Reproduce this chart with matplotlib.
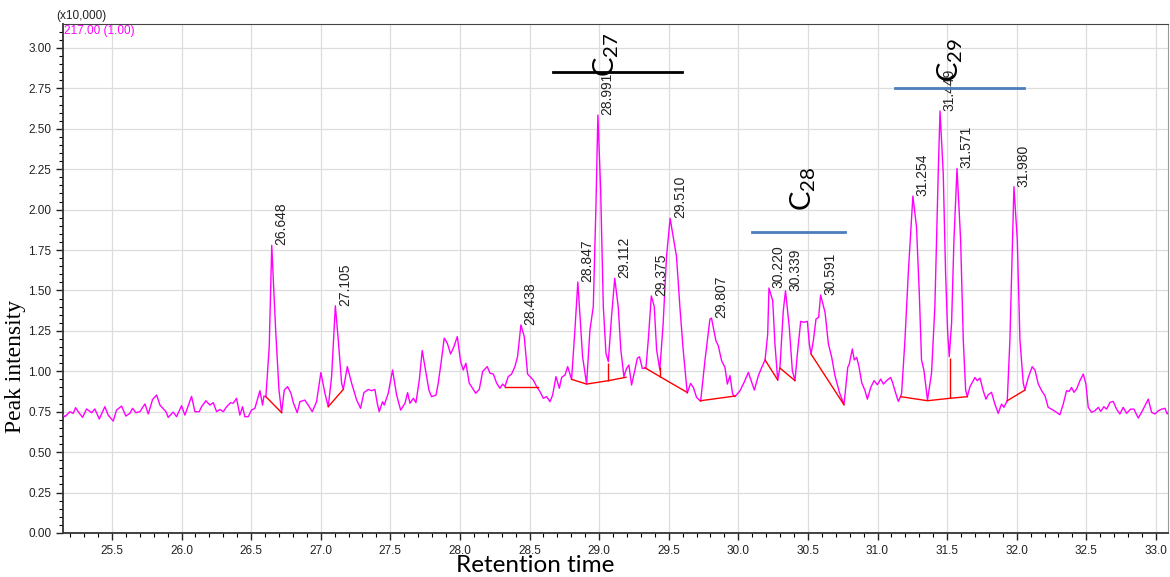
import matplotlib
matplotlib.use("Agg")
import matplotlib.pyplot as plt
from matplotlib.ticker import MultipleLocator

plt.rcParams['font.family'] = ['Liberation Sans', 'DejaVu Sans']
plt.rcParams['mathtext.default'] = 'regular'

# chromatogram trace (retention time, intensity x10,000)
rt = [25.150, 25.162, 25.198, 25.222, 25.239, 25.258, 25.289, 25.318, 25.354, 25.377,
      25.409, 25.449, 25.473, 25.509, 25.533, 25.569, 25.600, 25.629, 25.648, 25.672,
      25.701, 25.737, 25.761, 25.792, 25.821, 25.845, 25.888, 25.904, 25.940, 25.964,
      26.000, 26.024, 26.048, 26.072, 26.096, 26.127, 26.144, 26.175, 26.204, 26.228,
      26.252, 26.276, 26.300, 26.324, 26.352, 26.371, 26.395, 26.419, 26.438, 26.455,
      26.479, 26.503, 26.527, 26.563, 26.582, 26.592, 26.606, 26.630, 26.648, 26.676,
      26.700, 26.719, 26.738, 26.762, 26.786, 26.803, 26.831, 26.850, 26.886, 26.910,
      26.939, 26.970, 27.001, 27.030, 27.054, 27.078, 27.105, 27.126, 27.150, 27.162,
      27.191, 27.222, 27.258, 27.286, 27.310, 27.341, 27.365, 27.389, 27.406, 27.420,
      27.444, 27.456, 27.485, 27.516, 27.545, 27.574, 27.605, 27.624, 27.641, 27.665,
      27.684, 27.708, 27.729, 27.753, 27.777, 27.796, 27.828, 27.844, 27.864, 27.887,
      27.909, 27.933, 27.957, 27.981, 28.005, 28.024, 28.043, 28.067, 28.091, 28.113,
      28.139, 28.163, 28.196, 28.216, 28.240, 28.264, 28.287, 28.307, 28.323, 28.347,
      28.371, 28.395, 28.414, 28.438, 28.462, 28.486, 28.503, 28.527, 28.551, 28.575,
      28.599, 28.623, 28.647, 28.666, 28.690, 28.714, 28.731, 28.755, 28.774, 28.802,
      28.826, 28.847, 28.881, 28.910, 28.934, 28.958, 28.977, 28.991, 29.011, 29.030,
      29.049, 29.066, 29.089, 29.112, 29.137, 29.156, 29.178, 29.197, 29.214, 29.233,
      29.257, 29.274, 29.290, 29.310, 29.336, 29.353, 29.375, 29.396, 29.413, 29.436,
      29.460, 29.484, 29.510, 29.556, 29.580, 29.604, 29.633, 29.657, 29.677, 29.700,
      29.729, 29.760, 29.796, 29.807, 29.839, 29.856, 29.880, 29.904, 29.921, 29.940,
      29.959, 29.976, 30.012, 30.041, 30.072, 30.096, 30.115, 30.144, 30.168, 30.192,
      30.211, 30.220, 30.247, 30.263, 30.283, 30.299, 30.323, 30.339, 30.366, 30.388,
      30.407, 30.424, 30.448, 30.472, 30.496, 30.510, 30.522, 30.539, 30.558, 30.577,
      30.591, 30.623, 30.647, 30.671, 30.694, 30.726, 30.759, 30.786, 30.797, 30.819,
      30.833, 30.850, 30.867, 30.886, 30.910, 30.927, 30.951, 30.975, 30.999, 31.023,
      31.042, 31.065, 31.094, 31.108, 31.125, 31.149, 31.166, 31.173, 31.197, 31.221,
      31.254, 31.280, 31.300, 31.316, 31.333, 31.359, 31.388, 31.412, 31.436, 31.449,
      31.472, 31.489, 31.503, 31.515, 31.532, 31.549, 31.571, 31.597, 31.616, 31.633,
      31.645, 31.664, 31.688, 31.700, 31.716, 31.736, 31.759, 31.779, 31.795, 31.819,
      31.843, 31.867, 31.891, 31.908, 31.932, 31.951, 31.970, 31.980, 32.004, 32.023,
      32.047, 32.059, 32.083, 32.111, 32.131, 32.155, 32.179, 32.203, 32.226, 32.250,
      32.286, 32.310, 32.334, 32.358, 32.377, 32.394, 32.411, 32.430, 32.454, 32.478,
      32.497, 32.514, 32.538, 32.562, 32.586, 32.603, 32.626, 32.646, 32.670, 32.693,
      32.717, 32.741, 32.765, 32.789, 32.818, 32.842, 32.873, 32.897, 32.921, 32.945,
      32.969, 32.993, 33.017, 33.041, 33.065, 33.081, 33.101]
intensity = [0.730, 0.719, 0.750, 0.740, 0.775, 0.750, 0.715, 0.767, 0.744, 0.767,
             0.705, 0.781, 0.729, 0.692, 0.760, 0.785, 0.723, 0.740, 0.771, 0.744,
             0.750, 0.798, 0.736, 0.826, 0.853, 0.791, 0.750, 0.715, 0.748, 0.719,
             0.787, 0.729, 0.787, 0.845, 0.750, 0.750, 0.781, 0.818, 0.791, 0.806,
             0.750, 0.764, 0.750, 0.781, 0.806, 0.802, 0.833, 0.729, 0.781, 0.719,
             0.719, 0.760, 0.771, 0.880, 0.791, 0.847, 0.843, 1.153, 1.779, 1.256,
             0.884, 0.744, 0.884, 0.905, 0.864, 0.806, 0.744, 0.812, 0.822, 0.791,
             0.750, 0.812, 0.992, 0.864, 0.781, 0.967, 1.405, 1.194, 0.926, 0.888,
             1.029, 0.926, 0.822, 0.771, 0.868, 0.888, 0.880, 0.888, 0.802, 0.750,
             0.812, 0.791, 0.864, 1.008, 0.853, 0.760, 0.802, 0.868, 0.802, 0.833,
             0.806, 0.946, 1.128, 1.008, 0.884, 0.843, 0.853, 0.926, 1.050, 1.205,
             1.174, 1.107, 1.153, 1.215, 1.060, 1.008, 1.050, 0.926, 0.895, 0.864,
             0.888, 0.998, 1.029, 0.988, 0.983, 0.926, 0.895, 0.921, 0.905, 0.967,
             0.983, 1.029, 1.091, 1.287, 1.215, 0.983, 0.967, 0.946, 0.905, 0.874,
             0.833, 0.843, 0.812, 0.853, 0.967, 0.895, 0.963, 0.977, 1.029, 0.950,
             1.256, 1.552, 1.091, 0.921, 1.256, 1.400, 2.018, 2.585, 2.120, 1.400,
             1.111, 1.060, 1.338, 1.575, 1.400, 1.132, 0.967, 1.018, 1.039, 0.915,
             1.008, 1.080, 1.090, 1.018, 1.018, 1.194, 1.466, 1.400, 1.132, 1.008,
             1.297, 1.709, 1.946, 1.709, 1.400, 1.130, 0.865, 0.925, 0.900, 0.839,
             0.814, 1.065, 1.323, 1.329, 1.189, 1.158, 1.065, 1.024, 0.921, 0.973,
             0.859, 0.843, 0.880, 0.931, 0.993, 0.931, 0.884, 0.973, 1.024, 1.070,
             1.230, 1.515, 1.437, 1.169, 0.946, 1.024, 1.375, 1.498, 1.272, 1.004,
             0.942, 1.107, 1.309, 1.303, 1.309, 1.169, 1.107, 1.189, 1.323, 1.334,
             1.472, 1.364, 1.169, 1.086, 0.973, 0.870, 0.793, 1.024, 1.045, 1.138,
             1.070, 1.086, 1.028, 0.931, 0.880, 0.828, 0.900, 0.942, 0.917, 0.952,
             0.921, 0.942, 0.962, 0.931, 0.880, 0.814, 0.843, 0.864, 1.194, 1.608,
             2.084, 1.894, 1.484, 1.070, 1.008, 0.822, 0.989, 1.400, 2.224, 2.610,
             2.224, 1.607, 1.255, 1.090, 1.296, 1.812, 2.255, 1.812, 1.194, 0.884,
             0.843, 0.905, 0.942, 0.962, 0.942, 0.958, 0.880, 0.828, 0.855, 0.870,
             0.797, 0.740, 0.797, 0.777, 0.818, 1.194, 1.812, 2.142, 1.812, 1.194,
             0.926, 0.884, 0.962, 1.028, 1.008, 0.921, 0.880, 0.849, 0.777, 0.766,
             0.746, 0.731, 0.797, 0.880, 0.876, 0.900, 0.870, 0.890, 0.942, 0.983,
             0.921, 0.777, 0.746, 0.756, 0.777, 0.752, 0.781, 0.766, 0.808, 0.814,
             0.766, 0.736, 0.777, 0.740, 0.766, 0.766, 0.711, 0.746, 0.787, 0.828,
             0.746, 0.736, 0.756, 0.766, 0.771, 0.736, 0.760]

# labelled peaks
peak_rt = [26.648, 27.105, 28.438, 28.847, 28.991, 29.112, 29.375, 29.510,
           29.807, 30.220, 30.339, 30.591, 31.254, 31.449, 31.571, 31.980]
peak_height = [1.779, 1.405, 1.287, 1.552, 2.585, 1.575, 1.466, 1.946,
               1.329, 1.515, 1.498, 1.472, 2.084, 2.610, 2.255, 2.142]

# integration baselines (red)
baselines = [
    ([26.606, 26.719], [0.843, 0.744]),
    ([27.054, 27.162], [0.781, 0.888]),
    ([28.323, 28.563], [0.905, 0.905]),
    ([28.802, 28.910, 29.066, 29.193], [0.950, 0.921, 0.942, 0.963]),
    ([29.329, 29.437, 29.633], [1.022, 0.967, 0.869]),
    ([29.729, 29.976], [0.818, 0.847]),
    ([30.192, 30.283], [1.070, 0.946]),
    ([30.299, 30.407], [1.020, 0.942]),
    ([30.522, 30.759], [1.107, 0.793]),
    ([31.166, 31.359, 31.520, 31.645], [0.843, 0.818, 0.833, 0.843]),
    ([31.932, 32.059], [0.818, 0.884]),
]
drop_rt = [29.066, 29.437, 31.520]
drop_lo = [0.942, 0.967, 0.833]
drop_hi = [1.053, 1.024, 1.080]

# carbon-number groups
group_names = ['C$_{27}$', 'C$_{28}$', 'C$_{29}$']
group_start = [28.668, 30.098, 31.125]
group_end = [29.595, 30.766, 32.052]
group_level = [2.851, 1.863, 2.752]
group_text_x = [29.049, 30.464, 31.520]
group_text_y = [2.82, 1.99, 2.79]
group_colors = ['black', '#4A7EBB', '#4A7EBB']

fig = plt.figure(figsize=(11.7, 5.77), dpi=100)
ax = fig.add_axes([0.0538, 0.0763, 0.9444, 0.8821])

ax.plot(rt, intensity, color='#FF00FF', lw=1.0, zorder=3)
for xs, ys in baselines:
    ax.plot(xs, ys, color='#FF0000', lw=1.0, zorder=4)
ax.vlines(drop_rt, drop_lo, drop_hi, color='#FF0000', lw=1.0, zorder=4)

for x, h in zip(peak_rt, peak_height):
    ax.annotate(f'{x:.3f}', (x, h), xytext=(2, 0), textcoords='offset points',
                rotation=90, ha='left', va='bottom', fontsize=10, color='#222222',
                zorder=5)

for name, x0, x1, lvl, tx, ty, c in zip(group_names, group_start, group_end,
                                          group_level, group_text_x, group_text_y,
                                          group_colors):
    ax.plot([x0, x1], [lvl, lvl], color=c, lw=2, zorder=5)
    ax.text(tx, ty, name, rotation=90, ha='center', va='bottom', fontsize=21,
            family=['Lato', 'DejaVu Sans'], zorder=6)

ax.set_xlim(25.148, 33.086)
ax.set_ylim(0, 3.148)
ax.xaxis.set_major_locator(MultipleLocator(0.5))
ax.xaxis.set_minor_locator(MultipleLocator(0.1))
ax.yaxis.set_major_locator(MultipleLocator(0.25))
ax.yaxis.set_minor_locator(MultipleLocator(0.05))
ax.xaxis.set_major_formatter(matplotlib.ticker.FormatStrFormatter('%.1f'))
ax.yaxis.set_major_formatter(matplotlib.ticker.FormatStrFormatter('%.2f'))
ax.grid(True, which='major', color='#DDDDDD', lw=0.9)
ax.set_axisbelow(True)
ax.tick_params(which='major', direction='out', length=5, width=1, labelsize=8.5,
               colors='#222222')
ax.tick_params(which='minor', direction='out', length=3, width=0.8)
for s in ['left', 'bottom']:
    ax.spines[s].set_color('#333333')
    ax.spines[s].set_linewidth(1.3)
ax.spines['top'].set_color('#444444')
ax.spines['right'].set_color('#999999')

ax.set_xlabel('Retention time', fontsize=17.5, family=['Lato', 'DejaVu Sans'],
              va='top')
ax.xaxis.set_label_coords(0.427, -0.043)
ax.set_ylabel('Peak intensity', fontsize=17, family=['Liberation Serif', 'DejaVu Serif'])
ax.yaxis.set_label_coords(-0.033, 0.328)

ax.text(-0.006, 1.003, '(x10,000)', transform=ax.transAxes, fontsize=8.5,
        ha='left', va='bottom', color='#222222')
ax.text(0.001, 0.998, '217.00 (1.00)', transform=ax.transAxes, fontsize=8.5,
        ha='left', va='top', color='#FF00FF')

fig.savefig('out.png', dpi=100)
